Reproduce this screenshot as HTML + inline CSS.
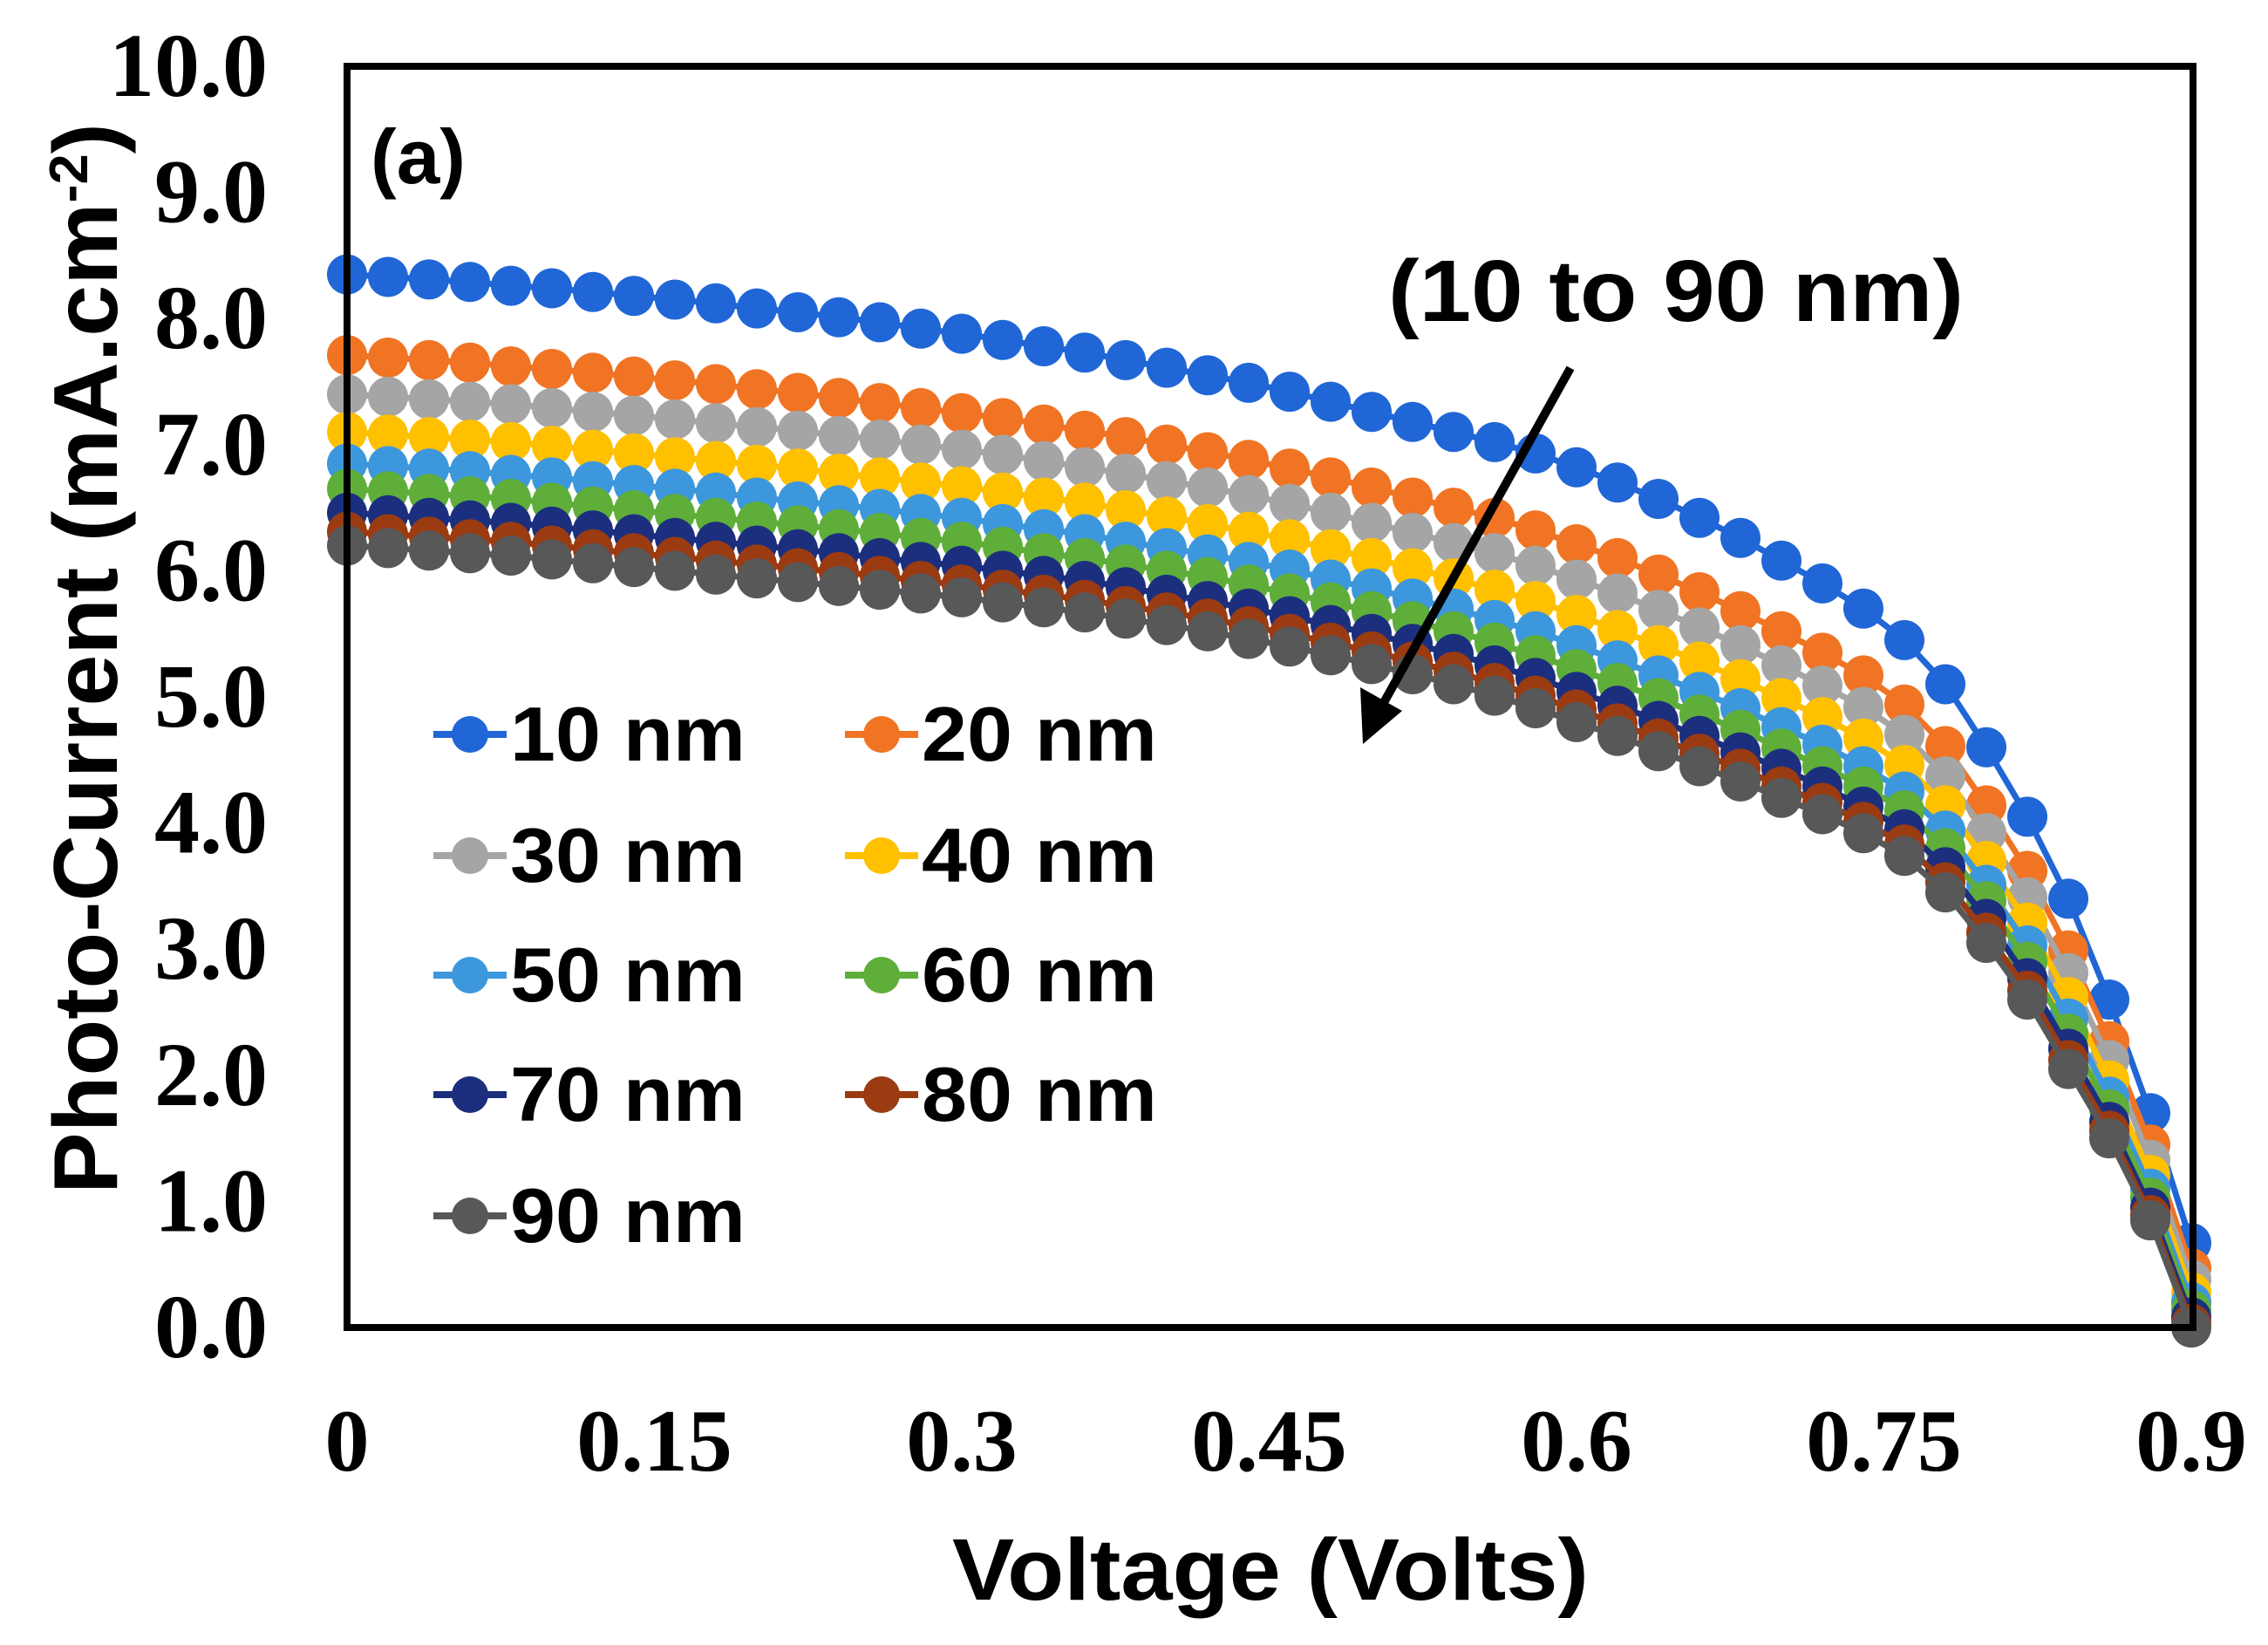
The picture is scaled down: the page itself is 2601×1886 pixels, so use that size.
<!DOCTYPE html>
<html><head><meta charset="utf-8"><style>
html,body{margin:0;padding:0;background:#fff;}
svg{display:block;}
</style></head><body>
<svg id="chart" width="2601" height="1886" viewBox="0 0 2601 1886" xmlns="http://www.w3.org/2000/svg">
<rect width="2601" height="1886" fill="#fff"/>
<g id="series"></g>
<rect x="398" y="76" width="2117" height="1446" fill="none" stroke="#000" stroke-width="8"/>
<g id="yticks" font-family="Liberation Serif, serif" font-weight="bold" font-size="104" text-anchor="end" fill="#000"></g>
<g id="xticks" font-family="Liberation Serif, serif" font-weight="bold" font-size="102" text-anchor="middle" fill="#000"></g>
<text x="1457" y="1834" text-anchor="middle" font-family="Liberation Sans, sans-serif" font-weight="bold" font-size="100" textLength="730" lengthAdjust="spacingAndGlyphs">Voltage (Volts)</text>
<text transform="translate(134,755) rotate(-90)" text-anchor="middle" font-family="Liberation Sans, sans-serif" font-weight="bold" font-size="104" textLength="1228" lengthAdjust="spacingAndGlyphs">Photo-Current (mA.cm<tspan baseline-shift="super" font-size="62">-2</tspan>)</text>
<text x="425" y="210" font-family="Liberation Sans, sans-serif" font-weight="bold" font-size="88" textLength="109" lengthAdjust="spacingAndGlyphs">(a)</text>
<text x="1592" y="368" font-family="Liberation Sans, sans-serif" font-weight="bold" font-size="100" textLength="660" lengthAdjust="spacingAndGlyphs">(10 to 90 nm)</text>
<g>
<line x1="1801" y1="422" x2="1580" y2="818" stroke="#000" stroke-width="10"/>
<polygon points="1563,853 1560,788 1608,815" fill="#000"/>
</g>
<g id="legend" font-family="Liberation Sans, sans-serif" font-weight="bold" font-size="88" fill="#000"></g>
</svg>
<script>
const voltages = [0,0.02,0.04,0.06,0.08,0.10,0.12,0.14,0.16,0.18,0.20,0.22,0.24,0.26,0.28,0.30,0.32,0.34,0.36,0.38,0.40,0.42,0.44,0.46,0.48,0.50,0.52,0.54,0.56,0.58,0.60,0.62,0.64,0.66,0.68,0.70,0.72,0.74,0.76,0.78,0.80,0.82,0.84,0.86,0.88,0.90];
const seriesNames = ["10 nm","20 nm","30 nm","40 nm","50 nm","60 nm","70 nm","80 nm","90 nm"];
const seriesColors = ["#2066d6","#f07424","#a5a5a5","#ffc000","#3d97dc","#5fae3a","#1c2f7e","#9a3b12","#585858"];
const s10 = [8.35,8.33,8.31,8.29,8.26,8.24,8.21,8.18,8.15,8.12,8.08,8.05,8.01,7.97,7.92,7.88,7.83,7.78,7.73,7.67,7.61,7.55,7.49,7.42,7.34,7.26,7.18,7.10,7.02,6.93,6.82,6.70,6.57,6.42,6.26,6.08,5.90,5.70,5.45,5.10,4.60,4.05,3.40,2.60,1.70,0.67];
const s20 = [7.71,7.69,7.67,7.65,7.62,7.60,7.57,7.54,7.51,7.48,7.44,7.41,7.37,7.33,7.29,7.25,7.21,7.16,7.11,7.06,7.00,6.94,6.88,6.81,6.74,6.66,6.58,6.50,6.42,6.32,6.21,6.10,5.97,5.83,5.68,5.52,5.35,5.17,4.94,4.61,4.14,3.62,2.99,2.27,1.45,0.47];
const s30 = [7.40,7.38,7.36,7.34,7.32,7.29,7.26,7.23,7.20,7.17,7.14,7.11,7.07,7.04,7.00,6.96,6.92,6.87,6.82,6.77,6.71,6.66,6.60,6.53,6.46,6.38,6.30,6.22,6.14,6.04,5.93,5.82,5.69,5.55,5.41,5.25,5.09,4.92,4.70,4.37,3.92,3.41,2.81,2.12,1.33,0.38];
const s40 = [7.10,7.08,7.06,7.04,7.02,6.99,6.96,6.93,6.90,6.87,6.84,6.81,6.77,6.74,6.70,6.67,6.62,6.58,6.54,6.48,6.43,6.37,6.31,6.25,6.17,6.10,6.02,5.94,5.85,5.76,5.65,5.53,5.41,5.28,5.14,4.99,4.84,4.67,4.46,4.14,3.70,3.21,2.62,1.96,1.21,0.28];
const s50 = [6.85,6.83,6.81,6.79,6.76,6.74,6.71,6.68,6.65,6.62,6.58,6.55,6.52,6.49,6.45,6.42,6.37,6.33,6.29,6.23,6.18,6.13,6.07,6.01,5.93,5.86,5.78,5.70,5.61,5.52,5.41,5.29,5.17,5.04,4.91,4.76,4.62,4.45,4.25,3.94,3.51,3.03,2.45,1.83,1.10,0.20];
const s60 = [6.65,6.63,6.61,6.59,6.57,6.54,6.51,6.48,6.45,6.42,6.39,6.36,6.33,6.30,6.26,6.23,6.19,6.14,6.10,6.05,6.00,5.95,5.89,5.82,5.75,5.68,5.60,5.52,5.43,5.33,5.22,5.11,4.99,4.86,4.74,4.59,4.45,4.29,4.10,3.80,3.38,2.90,2.33,1.73,1.03,0.14];
const s70 = [6.46,6.44,6.42,6.40,6.38,6.35,6.32,6.29,6.26,6.23,6.20,6.17,6.14,6.10,6.07,6.04,6.00,5.96,5.92,5.87,5.81,5.76,5.70,5.64,5.57,5.50,5.42,5.34,5.25,5.15,5.04,4.93,4.81,4.69,4.56,4.43,4.29,4.13,3.95,3.65,3.24,2.77,2.21,1.63,0.95,0.08];
const s80 = [6.31,6.29,6.27,6.25,6.23,6.20,6.17,6.14,6.11,6.08,6.05,6.02,5.99,5.96,5.92,5.89,5.85,5.81,5.77,5.72,5.67,5.62,5.56,5.50,5.43,5.36,5.28,5.20,5.11,5.01,4.90,4.79,4.67,4.55,4.43,4.29,4.16,4.01,3.83,3.53,3.13,2.67,2.12,1.56,0.89,0.03];
const s90 = [6.20,6.18,6.16,6.14,6.12,6.09,6.06,6.03,6.00,5.97,5.94,5.91,5.88,5.85,5.82,5.79,5.75,5.71,5.67,5.62,5.57,5.52,5.46,5.40,5.33,5.26,5.18,5.10,5.01,4.91,4.80,4.69,4.57,4.45,4.33,4.20,4.07,3.92,3.74,3.45,3.05,2.60,2.05,1.50,0.85,0.00];
const yTickLabels = ["0.0","1.0","2.0","3.0","4.0","5.0","6.0","7.0","8.0","9.0","10.0"];
const xTickValues = [0,0.15,0.3,0.45,0.6,0.75,0.9];
const xTickLabels = ["0","0.15","0.3","0.45","0.6","0.75","0.9"];

const allSeries = [s10,s20,s30,s40,s50,s60,s70,s80,s90];
const NS = "http://www.w3.org/2000/svg";
const X0 = 398, X1 = 2513, Y0 = 1522, Y1 = 76;
function xScale(v){ return X0 + (v / 0.9) * (X1 - X0); }
function yScale(v){ return Y0 - (v / 10) * (Y0 - Y1); }

const gS = document.getElementById('series');
allSeries.forEach(function(data, si){
  const g = document.createElementNS(NS, 'g');
  
  
  let d = '';
  data.forEach(function(v, i){ d += (i ? 'L' : 'M') + xScale(voltages[i]).toFixed(1) + ',' + yScale(v).toFixed(1); });
  const path = document.createElementNS(NS, 'path');
  path.setAttribute('d', d);
  path.setAttribute('fill', 'none');
  path.setAttribute('stroke', seriesColors[si]);
  path.setAttribute('stroke-width', '7');
  
  
  g.appendChild(path);
  data.forEach(function(v, i){
    const c = document.createElementNS(NS, 'circle');
    c.setAttribute('cx', xScale(voltages[i]).toFixed(1));
    c.setAttribute('cy', yScale(v).toFixed(1));
    c.setAttribute('r', '23');
    c.setAttribute('fill', seriesColors[si]);
    
    
    g.appendChild(c);
  });
  gS.appendChild(g);
});

const gy = document.getElementById('yticks');
yTickLabels.forEach(function(lab, i){
  const t = document.createElementNS(NS, 'text');
  t.setAttribute('x', '307');
  t.setAttribute('y', (yScale(i) + 34).toFixed(1));
  t.textContent = lab;
  
  
  gy.appendChild(t);
});
const gx = document.getElementById('xticks');
xTickValues.forEach(function(v, i){
  const t = document.createElementNS(NS, 'text');
  t.setAttribute('x', xScale(v).toFixed(1));
  t.setAttribute('y', '1686');
  t.textContent = xTickLabels[i];
  
  
  gx.appendChild(t);
});

const gl = document.getElementById('legend');
const rowsY = [842, 981, 1118, 1255, 1394];
seriesNames.forEach(function(name, i){
  const col = i % 2, row = Math.floor(i / 2);
  const cx = col ? 1011 : 539, cy = rowsY[row];
  const e = document.createElementNS(NS, 'g');
  
  
  const ln = document.createElementNS(NS, 'line');
  ln.setAttribute('x1', cx - 42); ln.setAttribute('x2', cx + 42);
  ln.setAttribute('y1', cy); ln.setAttribute('y2', cy);
  ln.setAttribute('stroke', seriesColors[i]); ln.setAttribute('stroke-width', '8');
  
  
  e.appendChild(ln);
  const c = document.createElementNS(NS, 'circle');
  c.setAttribute('cx', cx); c.setAttribute('cy', cy); c.setAttribute('r', '21');
  c.setAttribute('fill', seriesColors[i]);
  
  
  e.appendChild(c);
  const t = document.createElementNS(NS, 'text');
  t.setAttribute('x', cx + 46); t.setAttribute('y', cy + 30);
  t.setAttribute('textLength', '270'); t.setAttribute('lengthAdjust', 'spacingAndGlyphs');
  t.textContent = name;
  
  
  e.appendChild(t);
  gl.appendChild(e);
});
</script>
</body></html>
